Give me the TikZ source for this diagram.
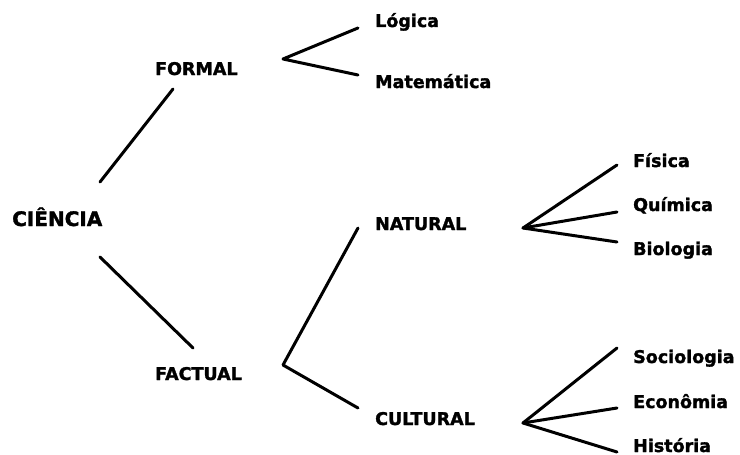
\documentclass[tikz,border=0pt]{standalone}
\usepackage{fontspec}
\setmainfont{DejaVu Sans}[BoldFeatures = {FakeBold = 1.6}]

\tikzset{
    ramo/.style = {line width = 3pt, line cap = round, line join = round},
    area/.style = {anchor = base west, inner sep = 0pt,
                   font = \fontsize{17.5}{20}\selectfont\bfseries},
    raiz/.style = {area, font = \fontsize{20}{24}\selectfont\bfseries}
}

\begin{document}
\begin{tikzpicture}[x = 1pt, y = -1pt]
            \useasboundingbox (0, 0) rectangle (740, 455);

            \node [raiz] (ciencia)    at (12, 226)  {CIÊNCIA};
            \node [area] (formal)     at (155, 75)  {FORMAL};
            \node [area] (factual)    at (155, 380) {FACTUAL};
            \node [area] (natural)    at (375, 230) {NATURAL};
            \node [area] (cultural)   at (375, 425) {CULTURAL};
            \node [area] (logica)     at (375, 27)  {Lógica};
            \node [area] (matematica) at (375, 88)  {Matemática};
            \node [area] (fisica)     at (633, 167) {Física};
            \node [area] (quimica)    at (633, 211) {Química};
            \node [area] (biologia)   at (633, 255) {Biologia};
            \node [area] (sociologia) at (633, 363) {Sociologia};
            \node [area] (economia)   at (633, 408) {Econômia};
            \node [area] (historia)   at (633, 452) {História};

            % pontos de ligacao
            \coordinate (ciencia-sup)   at (100, 182);
            \coordinate (ciencia-inf)   at (100, 257);
            \coordinate (formal-in)     at (173, 89);
            \coordinate (factual-in)    at (193, 348);
            \coordinate (formal-out)    at (283, 59);
            \coordinate (factual-out)   at (283, 365);
            \coordinate (natural-out)   at (523, 228);
            \coordinate (cultural-out)  at (523, 423);
            \coordinate (logica-in)     at (358, 28);
            \coordinate (matematica-in) at (358, 75);
            \coordinate (natural-in)    at (358, 228);
            \coordinate (cultural-in)   at (358, 408);
            \coordinate (fisica-in)     at (617, 165);
            \coordinate (quimica-in)    at (617, 212);
            \coordinate (biologia-in)   at (617, 242);
            \coordinate (sociologia-in) at (617, 348);
            \coordinate (economia-in)   at (617, 408);
            \coordinate (historia-in)   at (617, 452);

            \draw [ramo] (ciencia-sup) -- (formal-in);  % CIENCIA -> FORMAL
            \draw [ramo] (ciencia-inf) -- (factual-in); % CIENCIA -> FACTUAL

            \draw [ramo] (logica-in) -- (formal-out) -- (matematica-in);
            \draw [ramo] (natural-in) -- (factual-out) -- (cultural-in);

            \draw [ramo] (fisica-in) -- (natural-out) -- (biologia-in);
            \draw [ramo] (natural-out) -- (quimica-in);

            \draw [ramo] (sociologia-in) -- (cultural-out) -- (historia-in);
            \draw [ramo] (cultural-out) -- (economia-in);
        \end{tikzpicture}
\end{document}
